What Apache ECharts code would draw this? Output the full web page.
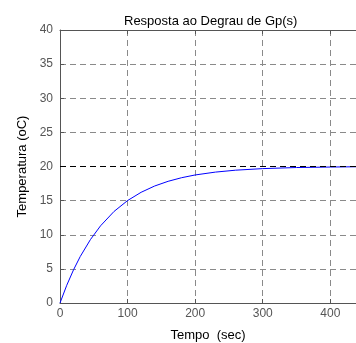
<!DOCTYPE html>
<html><head><meta charset="utf-8">
<script src="https://cdn.jsdelivr.net/npm/echarts@6/dist/echarts.min.js"></script>
<style>html,body{margin:0;padding:0;background:#fff}#c{width:356px;height:343px}</style>
</head><body><div id="c"></div>
<script>
var times = [0,10,20,30,45,60,80,100,120,140,160,180,200,230,260,300,350,400,438];
var temps = [0,2.6,4.86,6.82,9.29,11.31,13.42,15.01,16.22,17.14,17.83,18.36,18.76,19.18,19.46,19.69,19.85,19.92,19.96];
var steadyState = 20;
var xTicks = [0,100,200,300,400];
var yTicks = [0,5,10,15,20,25,30,35,40];

var font = 'Liberation Sans, Arial, sans-serif';
var chart = echarts.init(document.getElementById('c'), null, {renderer:'canvas'});
var gridDash = {show:true, lineStyle:{color:'#8a8a8a', type:[6,4], width:1}};
chart.setOption({
  animation:false,
  title:{text:'Resposta ao Degrau de Gp(s)', left:119, top:10,
    textStyle:{fontFamily:font, fontSize:13, fontWeight:'normal', color:'#000'}},
  grid:{left:60, right:0, top:30, bottom:40, containLabel:false, outerBoundsMode:'none'},
  xAxis:[{type:'value', min:0, max:438, interval:100,
    name:'Tempo  (sec)', nameLocation:'middle', nameGap:26,
    nameTextStyle:{fontFamily:font, fontSize:13, color:'#000'},
    axisLine:{show:true, lineStyle:{color:'#555'}},
    axisTick:{show:true, inside:true, length:4, lineStyle:{color:'#555'}},
    axisLabel:{fontFamily:font, fontSize:12, color:'#555', margin:5,
      formatter:function(v){return xTicks.indexOf(v)>=0?String(v):'';}},
    splitLine:gridDash},
   {type:'value', position:'top', min:0, max:438, interval:100,
    axisLine:{show:true, lineStyle:{color:'#555'}},
    axisTick:{show:true, inside:true, length:4, lineStyle:{color:'#555'}},
    axisLabel:{show:false}, splitLine:{show:false}}],
  yAxis:{type:'value', min:0, max:40, interval:5,
    name:'Temperatura (oC)', nameLocation:'middle', nameGap:21,
    nameTextStyle:{fontFamily:font, fontSize:13, color:'#000'},
    axisLine:{show:true, lineStyle:{color:'#555'}},
    axisTick:{show:true, inside:true, length:4, lineStyle:{color:'#555'}},
    axisLabel:{fontFamily:font, fontSize:12, color:'#555', margin:7,
      formatter:function(v){return yTicks.indexOf(v)>=0?String(v):'';}},
    splitLine:gridDash},
  series:[{type:'line', data:times.map(function(t,i){return [t,temps[i]];}),
    showSymbol:false, smooth:false, lineStyle:{color:'#0000ff', width:1}, z:3,
    markLine:{silent:true, symbol:'none', label:{show:false},
      lineStyle:{color:'#000', type:[6,4], width:1},
      data:[{yAxis:steadyState}]}}]
});
</script></body></html>
